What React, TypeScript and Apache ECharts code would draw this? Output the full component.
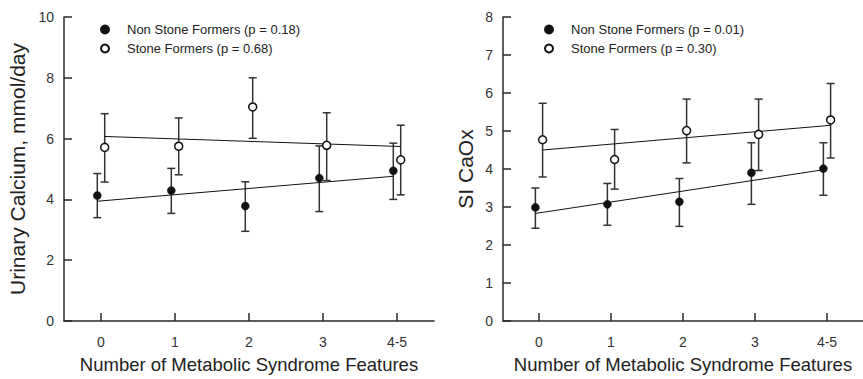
import React, { useEffect, useRef } from "react";
import * as echarts from "echarts";

const categories = ["0", "1", "2", "3", "4-5"];
const catIndex = [0, 1, 2, 3, 4];

// Left panel: Urinary Calcium, mmol/day
const calNonMean = [4.13, 4.29, 3.78, 4.7, 4.94];
const calNonLow = [3.4, 3.54, 2.95, 3.6, 4.0];
const calNonHigh = [4.85, 5.02, 4.58, 5.76, 5.85];
const calStoneMean = [5.71, 5.75, 7.04, 5.78, 5.3];
const calStoneLow = [4.57, 4.81, 6.01, 4.62, 4.15];
const calStoneHigh = [6.82, 6.68, 8.0, 6.85, 6.44];
const calNonFit = [3.94, 4.76];
const calStoneFit = [6.07, 5.74];

// Right panel: SI CaOx
const siNonMean = [2.99, 3.07, 3.14, 3.9, 4.01];
const siNonLow = [2.44, 2.52, 2.49, 3.07, 3.31];
const siNonHigh = [3.5, 3.62, 3.75, 4.69, 4.69];
const siStoneMean = [4.77, 4.25, 5.01, 4.91, 5.29];
const siStoneLow = [3.79, 3.47, 4.16, 3.96, 4.29];
const siStoneHigh = [5.73, 5.04, 5.84, 5.84, 6.25];
const siNonFit = [2.83, 3.98];
const siStoneFit = [4.5, 5.15];

const legendLeft = ["Non Stone Formers (p = 0.18)", "Stone Formers (p = 0.68)"];
const legendRight = ["Non Stone Formers (p = 0.01)", "Stone Formers (p = 0.30)"];

const FONT = "'Liberation Sans', Arial, Helvetica, sans-serif";
const AX = "#2a2a2a";
const OFF = 0.05;

function errRender(params: any, api: any) {
  const x = api.value(0);
  const lo = api.value(1);
  const hi = api.value(2);
  const t = api.coord([x, hi]);
  const b = api.coord([x, lo]);
  const hw = 4;
  const st = { stroke: "#333", lineWidth: 1.5 };
  return {
    type: "group",
    children: [
      { type: "line", shape: { x1: t[0], y1: t[1], x2: b[0], y2: b[1] }, style: st },
      { type: "line", shape: { x1: t[0] - hw, y1: t[1], x2: t[0] + hw, y2: t[1] }, style: st },
      { type: "line", shape: { x1: b[0] - hw, y1: b[1], x2: b[0] + hw, y2: b[1] }, style: st },
    ],
  };
}

function panelSeries(
  idx: number,
  names: string[],
  nonMean: number[], nonLow: number[], nonHigh: number[],
  stMean: number[], stLow: number[], stHigh: number[],
  nonFit: number[], stFit: number[]
) {
  const ax = { xAxisIndex: idx, yAxisIndex: idx };
  return [
    {
      type: "custom", ...ax, renderItem: errRender, z: 2,
      encode: { x: 0, y: [1, 2] },
      data: catIndex.map((c, i) => [c - OFF, nonLow[i], nonHigh[i]]),
    },
    {
      type: "custom", ...ax, renderItem: errRender, z: 2,
      encode: { x: 0, y: [1, 2] },
      data: catIndex.map((c, i) => [c + OFF, stLow[i], stHigh[i]]),
    },
    {
      type: "line", ...ax, z: 3, symbol: "none",
      lineStyle: { color: "#111", width: 1 },
      data: [[catIndex[0] - OFF, nonFit[0]], [catIndex[4] - OFF, nonFit[1]]],
    },
    {
      type: "line", ...ax, z: 3, symbol: "none",
      lineStyle: { color: "#111", width: 1 },
      data: [[catIndex[0] + OFF, stFit[0]], [catIndex[4] + OFF, stFit[1]]],
    },
    {
      name: names[0], type: "scatter", ...ax, z: 5, symbol: "circle", symbolSize: 8,
      itemStyle: { color: "#111", borderColor: "#111", borderWidth: 0.5, opacity: 1 },
      data: catIndex.map((c, i) => [c - OFF, nonMean[i]]),
    },
    {
      name: names[1], type: "scatter", ...ax, z: 5, symbol: "circle", symbolSize: 8,
      itemStyle: { color: "#fff", borderColor: "#111", borderWidth: 1.5, opacity: 1 },
      data: catIndex.map((c, i) => [c + OFF, stMean[i]]),
    },
  ];
}

function xAxisOpt(idx: number) {
  return {
    type: "value", gridIndex: idx, min: -0.5, max: 4.5,
    name: "Number of Metabolic Syndrome Features",
    nameLocation: "middle", nameGap: 34,
    nameTextStyle: { fontFamily: FONT, fontSize: 18.5, color: "#222" },
    axisLine: { show: true, onZero: false, lineStyle: { color: AX, width: 1.5 } },
    axisTick: { show: true, inside: true, length: 8, lineStyle: { color: AX, width: 1.5 }, customValues: catIndex },
    axisLabel: {
      show: true, margin: 14, fontFamily: FONT, fontSize: 14, color: "#333",
      customValues: catIndex,
      formatter: (v: number) => categories[Math.round(v)],
    },
    splitLine: { show: false },
  };
}

function yAxisOpt(idx: number, max: number, interval: number, name: string, gap: number) {
  return {
    type: "value", gridIndex: idx, min: 0, max, interval,
    name, nameLocation: "middle", nameGap: gap,
    nameTextStyle: { fontFamily: FONT, fontSize: 21, color: "#222" },
    axisLine: { show: true, onZero: false, lineStyle: { color: AX, width: 1.5 } },
    axisTick: { show: true, inside: true, length: 8, lineStyle: { color: AX, width: 1.5 } },
    axisLabel: { margin: 10, fontFamily: FONT, fontSize: 14, color: "#333" },
    splitLine: { show: false },
  };
}

function legendOpt(names: string[], left: number) {
  return {
    data: names, orient: "vertical", left, top: 18,
    itemWidth: 34, itemHeight: 8, itemGap: 6,
    selectedMode: false,
    textStyle: { fontFamily: FONT, fontSize: 13, color: "#222", lineHeight: 13 },
  };
}

export default function App() {
  const ref = useRef<HTMLDivElement>(null);
  useEffect(() => {
    if (!ref.current) return;
    const chart = echarts.init(ref.current, undefined, { renderer: "svg" });
    chart.setOption({
      animation: false,
      backgroundColor: "#fff",
      grid: [
        { left: 64, top: 17, width: 370, height: 306 },
        { left: 503, top: 17, width: 370, height: 306 },
      ],
      legend: [legendOpt(legendLeft, 95), legendOpt(legendRight, 539)],
      xAxis: [xAxisOpt(0), xAxisOpt(1)],
      yAxis: [
        yAxisOpt(0, 10, 2, "Urinary Calcium, mmol/day", 36),
        yAxisOpt(1, 8, 1, "SI CaOx", 27),
      ],
      series: [
        ...panelSeries(0, legendLeft, calNonMean, calNonLow, calNonHigh,
          calStoneMean, calStoneLow, calStoneHigh, calNonFit, calStoneFit),
        ...panelSeries(1, legendRight, siNonMean, siNonLow, siNonHigh,
          siStoneMean, siStoneLow, siStoneHigh, siNonFit, siStoneFit),
      ],
    });
    return () => chart.dispose();
  }, []);
  return (
    <div
      ref={ref}
      style={{ position: "absolute", left: 0, top: 0, width: 863, height: 379 }}
    />
  );
}
